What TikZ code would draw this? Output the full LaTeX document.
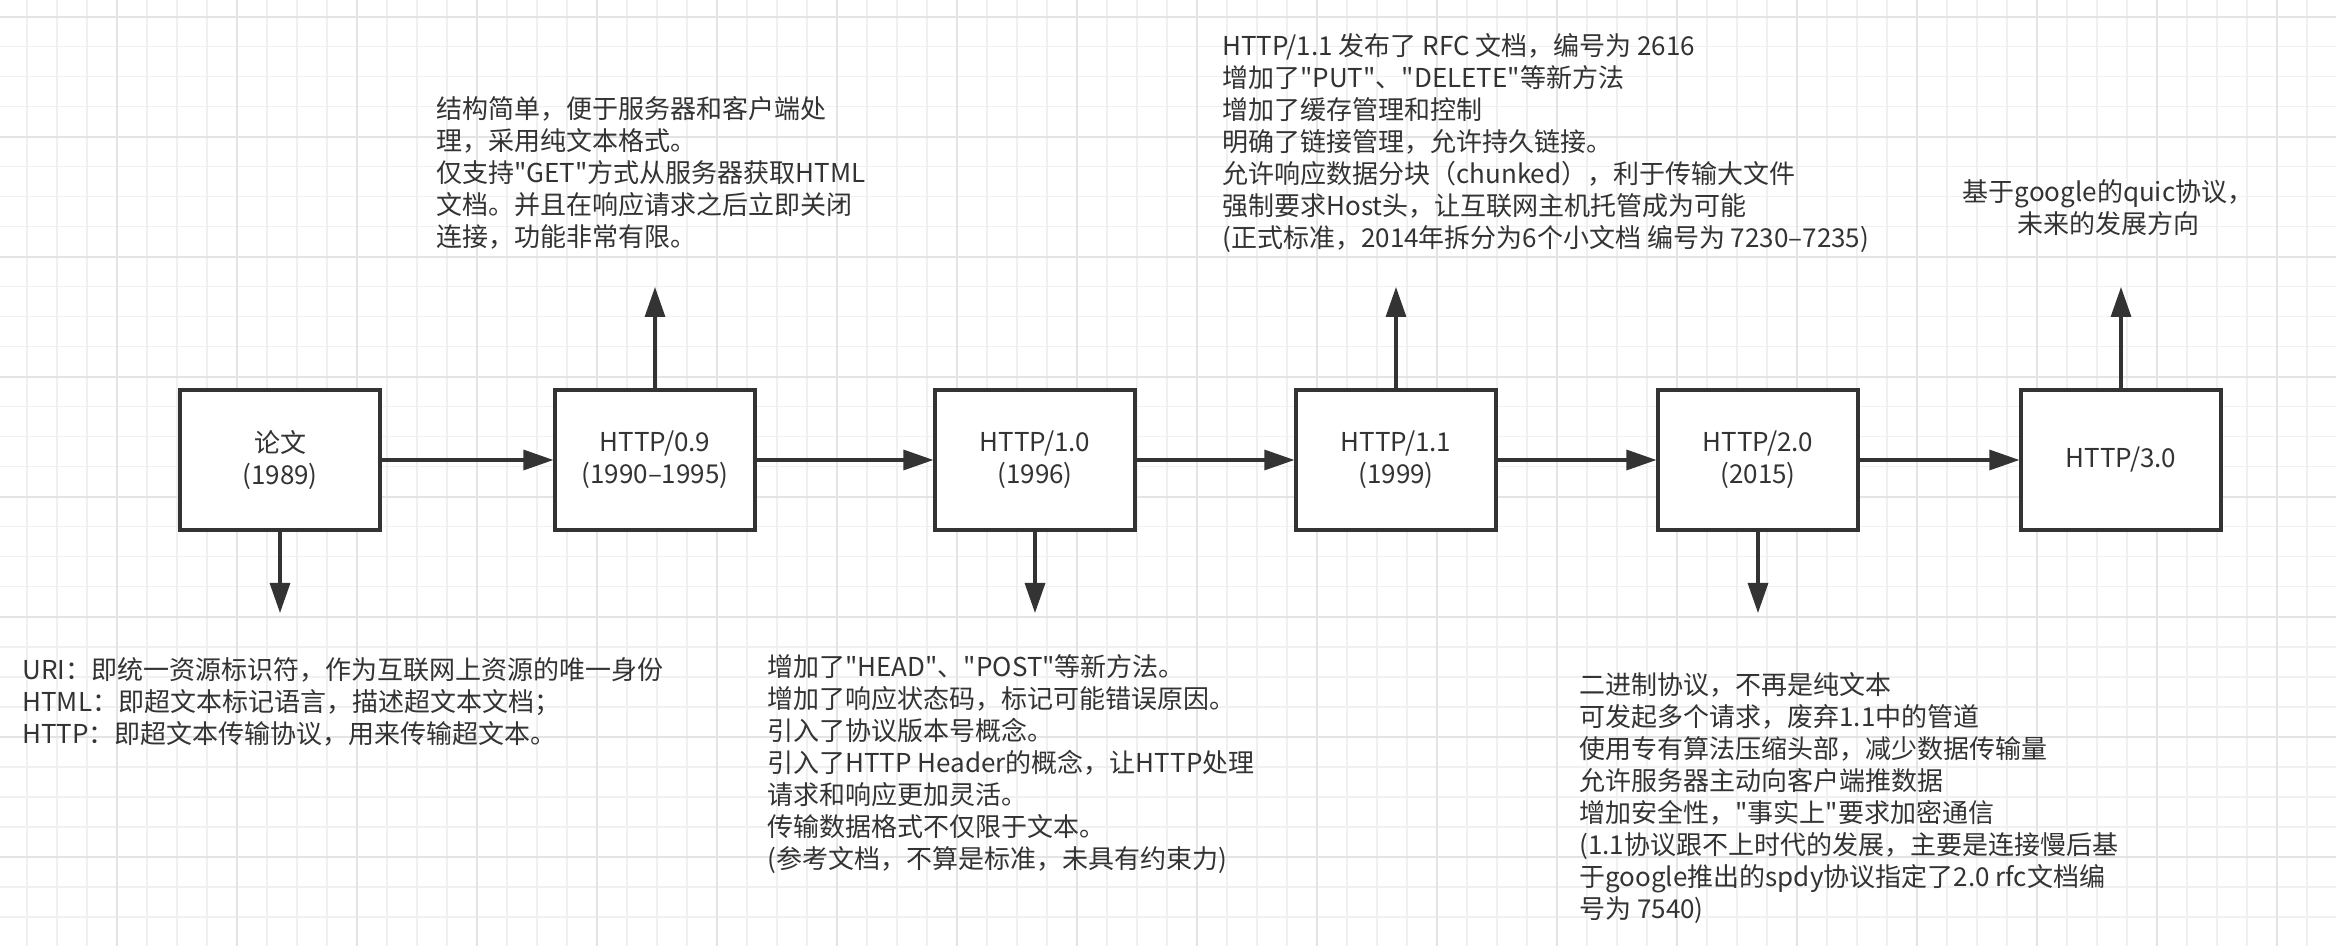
\documentclass[tikz,border=0pt]{standalone}
\usepackage{fontspec}
\setmainfont{Noto Sans CJK SC}[Ligatures=TeXOff]
\usetikzlibrary{arrows.meta}
\definecolor{ink}{HTML}{333333}
\definecolor{gridminor}{HTML}{F0F0F0}
\definecolor{gridmajor}{HTML}{E4E4E4}

\begin{document}
\begin{tikzpicture}[x=0.5pt,y=-0.5pt,font=\fontsize{13pt}{16pt}\selectfont,
    version/.style={draw=ink,line width=1.6pt,minimum width=100pt,minimum height=70pt,
      align=center,text=ink,inner sep=0pt,fill=white},
    note/.style={align=left,text=ink,inner sep=0pt,anchor=north west},
    flow/.style={ink,line width=1.6pt,-{Triangle[length=15pt,width=10pt]}}]
  \useasboundingbox (0,0) rectangle (2336,946);
  \fill[white] (0,0) rectangle (2336,946);
  % background grid
  \foreach \gx in {26.7,56.7,...,2336} \draw[gridminor,line width=0.8pt] (\gx,0) -- (\gx,946);
  \foreach \gy in {16.7,46.7,...,946} \draw[gridminor,line width=0.8pt] (0,\gy) -- (2336,\gy);
  \foreach \gx in {116.7,236.7,...,2336} \draw[gridmajor,line width=1pt] (\gx,0) -- (\gx,946);
  \foreach \gy in {16.7,136.7,...,946} \draw[gridmajor,line width=1pt] (0,\gy) -- (2336,\gy);

  % timeline
  \node[version] (paper) at (280,460) {论文\\(1989)};
  \node[version] (h09) at (655,460) {HTTP/0.9\\(1990–1995)};
  \node[version] (h10) at (1035,460) {HTTP/1.0\\(1996)};
  \node[version] (h11) at (1396,460) {HTTP/1.1\\(1999)};
  \node[version] (h20) at (1758,460) {HTTP/2.0\\(2015)};
  \node[version] (h30) at (2121,460) {HTTP/3.0};
  \foreach \a/\b in {paper/h09,h09/h10,h10/h11,h11/h20,h20/h30}
    \draw[flow] (\a) -- (\b);

  % notes above
  \coordinate (h09up) at (655,287);
  \coordinate (h11up) at (1396,287);
  \coordinate (h30up) at (2121,287);
  \draw[flow] (h09.north) -- (h09up);
  \draw[flow] (h11.north) -- (h11up);
  \draw[flow] (h30.north) -- (h30up);
  \node[note] (h09note) at (436,96) {结构简单，便于服务器和客户端处\\理，采用纯文本格式。\\
    仅支持"GET"方式从服务器获取HTML\\文档。并且在响应请求之后立即关闭\\连接，功能非常有限。};
  \node[note] (h11note) at (1222,33) {HTTP/1.1 发布了 RFC 文档，编号为 2616\\
    增加了"PUT"、"DELETE"等新方法\\增加了缓存管理和控制\\明确了链接管理，允许持久链接。\\
    允许响应数据分块（chunked），利于传输大文件\\强制要求Host头，让互联网主机托管成为可能\\
    (正式标准，2014年拆分为6个小文档 编号为 7230–7235)};
  \node[note,align=center,anchor=north] (h30note) at (2108,179)
    {基于google的quic协议，\\未来的发展方向};

  % notes below
  \coordinate (paperdn) at (280,613);
  \coordinate (h10dn) at (1035,613);
  \coordinate (h20dn) at (1758,613);
  \draw[flow] (paper.south) -- (paperdn);
  \draw[flow] (h10.south) -- (h10dn);
  \draw[flow] (h20.south) -- (h20dn);
  \node[note] (papernote) at (22,657) {URI：即统一资源标识符，作为互联网上资源的唯一身份\\
    HTML：即超文本标记语言，描述超文本文档；\\HTTP：即超文本传输协议，用来传输超文本。};
  \node[note] (h10note) at (767,654) {增加了"HEAD"、"POST"等新方法。\\
    增加了响应状态码，标记可能错误原因。\\引入了协议版本号概念。\\
    引入了HTTP Header的概念，让HTTP处理\\请求和响应更加灵活。\\传输数据格式不仅限于文本。\\
    (参考文档，不算是标准，未具有约束力)};
  \node[note] (h20note) at (1579,672) {二进制协议，不再是纯文本\\可发起多个请求，废弃1.1中的管道\\
    使用专有算法压缩头部，减少数据传输量\\允许服务器主动向客户端推数据\\
    增加安全性，"事实上"要求加密通信\\(1.1协议跟不上时代的发展，主要是连接慢后基\\
    于google推出的spdy协议指定了2.0 rfc文档编\\号为 7540)};
\end{tikzpicture}
\end{document}
